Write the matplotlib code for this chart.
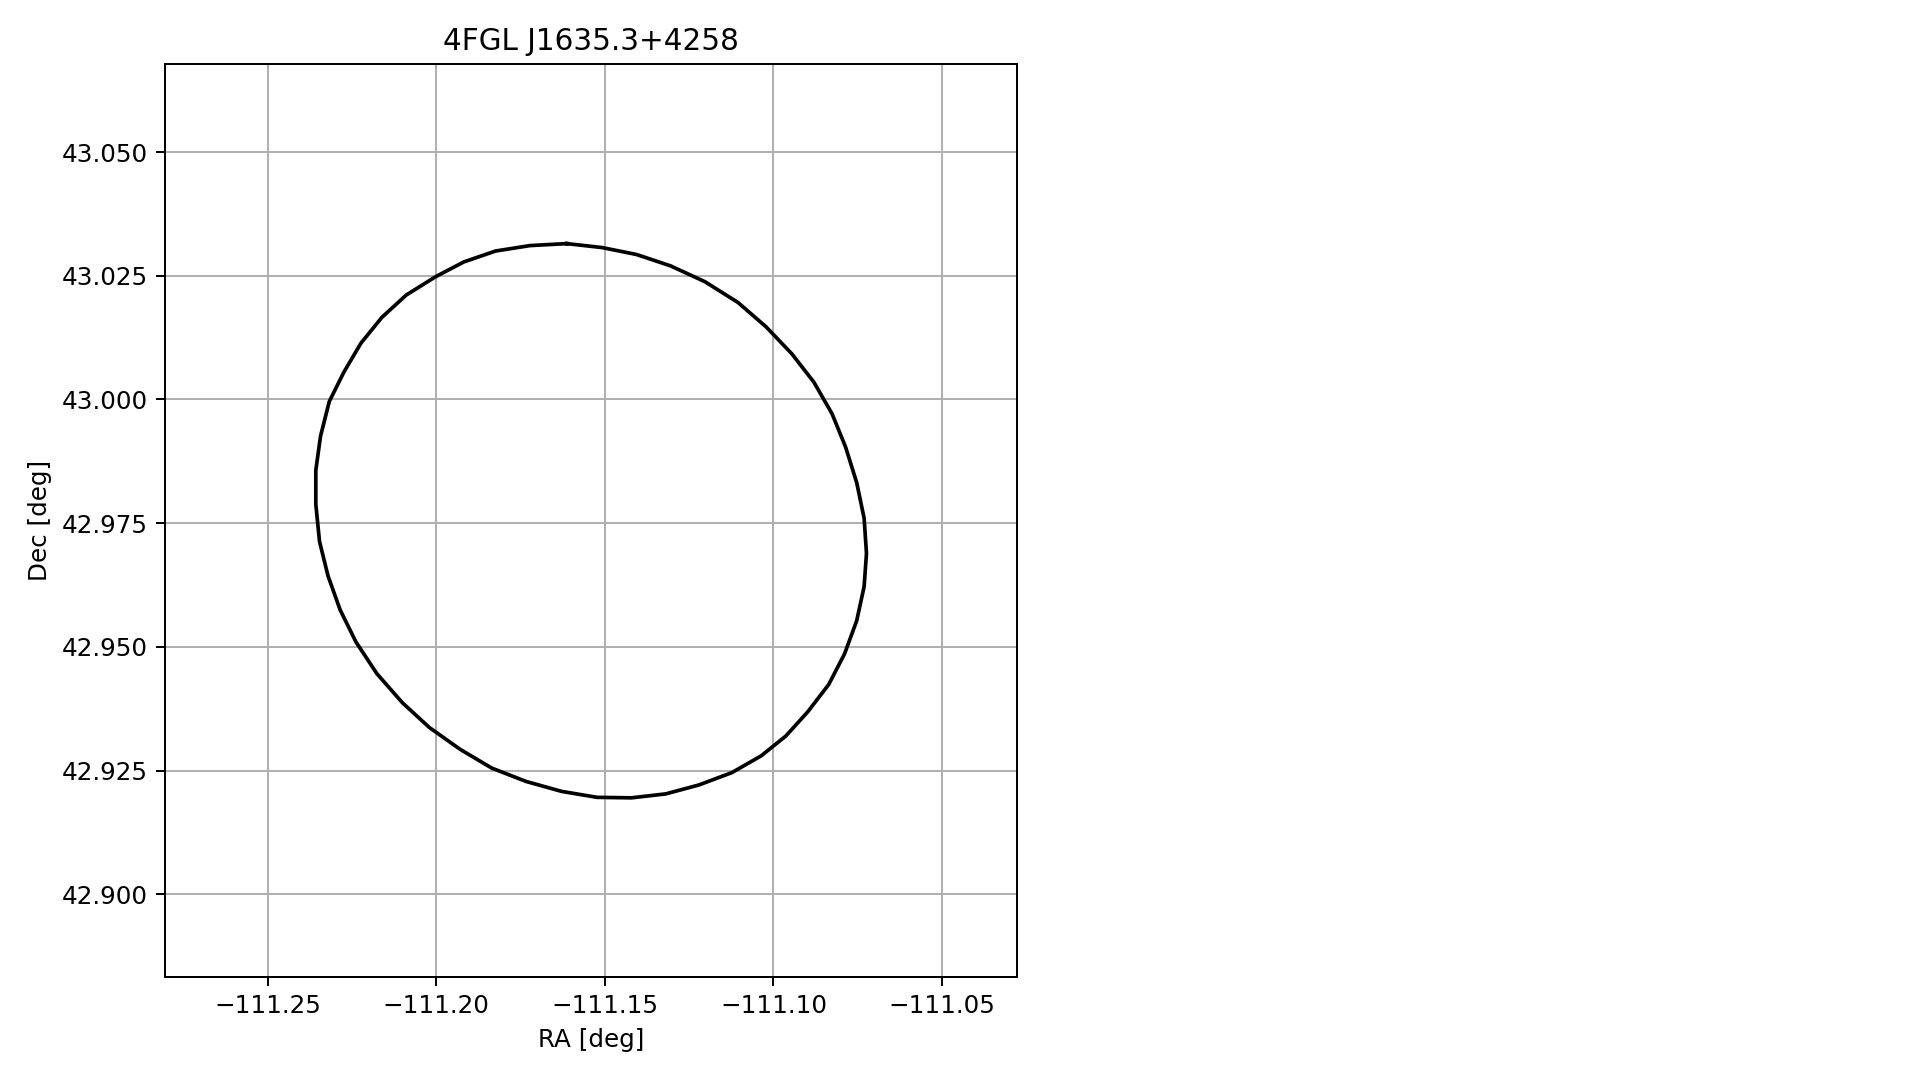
import numpy as np
import matplotlib.pyplot as plt

source_name = "4FGL J1635.3+4258"

# error ellipse contour vertices (deg)
ra = [-111.1613, -111.1722, -111.1824, -111.1918, -111.2002, -111.2089, -111.2161,
      -111.2223, -111.2274, -111.2317, -111.2343, -111.2357, -111.2357, -111.2346,
      -111.2321, -111.2285, -111.2238, -111.2176, -111.2100, -111.2020, -111.1929,
      -111.1835, -111.1733, -111.1628, -111.1523, -111.1421, -111.1319, -111.1221,
      -111.1123, -111.1036, -111.0963, -111.0898, -111.0836, -111.0789, -111.0753,
      -111.0731, -111.0724, -111.0731, -111.0753, -111.0786, -111.0826, -111.0880,
      -111.0945, -111.1022, -111.1105, -111.1203, -111.1305, -111.1406, -111.1508,
      -111.1613]
dec = [43.0315, 43.0311, 43.0300, 43.0278, 43.0248, 43.0211, 43.0166,
       43.0114, 43.0055, 42.9996, 42.9926, 42.9857, 42.9788, 42.9713,
       42.9644, 42.9575, 42.9510, 42.9446, 42.9387, 42.9337, 42.9293,
       42.9255, 42.9228, 42.9208, 42.9196, 42.9195, 42.9203, 42.9221,
       42.9246, 42.9280, 42.9320, 42.9369, 42.9424, 42.9486, 42.9553,
       42.9622, 42.9689, 42.9760, 42.9832, 42.9904, 42.9971, 43.0035,
       43.0092, 43.0147, 43.0196, 43.0238, 43.0270, 43.0293, 43.0307,
       43.0315]

ra_lim = (-111.2803, -111.0278)
dec_lim = (42.8833, 43.0677)

fig = plt.figure(figsize=(1919/177, 1080/177), dpi=177)
ax = fig.add_axes([0.0862, 0.0954, 0.4437, 0.8449])
ax.plot(ra, dec, color='black', lw=1.5)
ax.set_xlim(*ra_lim)
ax.set_ylim(*dec_lim)
ax.set_xticks([-111.25, -111.20, -111.15, -111.10, -111.05])
ax.set_yticks([42.900, 42.925, 42.950, 42.975, 43.000, 43.025, 43.050])
ax.set_xticklabels([f"{v:.2f}".replace('-', '\u2212') for v in ax.get_xticks()])
ax.set_yticklabels([f"{v:.3f}" for v in ax.get_yticks()])
ax.grid(True)
ax.set_xlabel('RA [deg]')
ax.set_ylabel('Dec [deg]')
ax.set_title(source_name)

plt.savefig('out.png', dpi=177)
